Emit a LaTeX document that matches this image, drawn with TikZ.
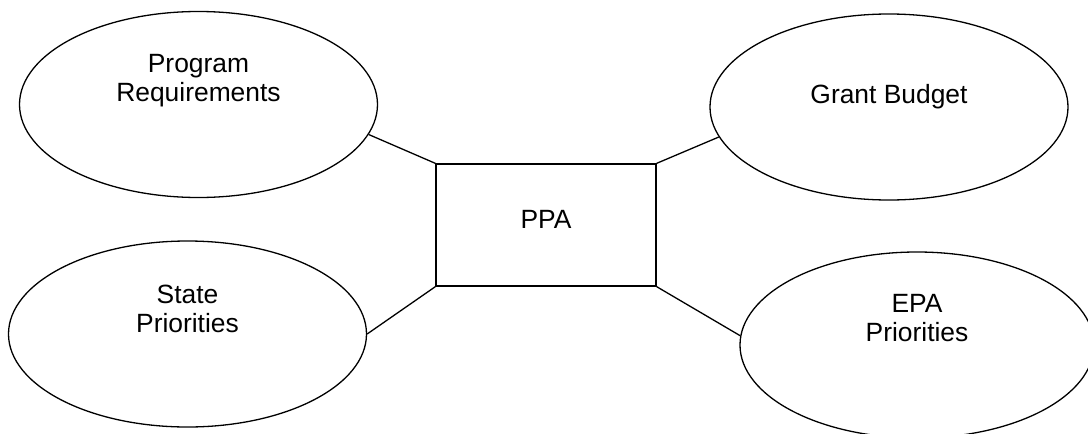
\documentclass[tikz,border=0pt]{standalone}
\usepackage{fontspec}
\setmainfont{Liberation Sans}
\usetikzlibrary{shapes,
                positioning}
\tikzset{bubble/.style=
   {ellipse,
    draw,
    align=center,
    inner sep=0pt,
    minimum width=179pt,
    minimum height=93pt,
    text height=9.4pt}}
\tikzset{block/.style=
   {rectangle,
    draw,
    text centered,
    minimum width=110pt,
    minimum height=61pt,
    text height=9.4pt,
    text depth=6.4pt}}
\tikzset{link/.style = {draw}}

\begin{document}
\begin{tikzpicture}[x=0.5pt, y=-0.5pt,
                    line width=0.65pt,
                    font=\fontsize{13.2}{14.5}\selectfont]

    \useasboundingbox (0,0) rectangle (1088,434);

    \node [block] (ppa) at (546,225) {PPA};

    \node [bubble, text depth=12.2pt] (program) at (198.5,104.5)
    {Program\\Requirements};
    \node [bubble, text depth=13.4pt] (grant) at (889,107)
    {Grant Budget};
    \node [bubble, text depth=11.4pt] (state) at (187.5,334)
    {State\\Priorities};
    \node [bubble, minimum width=177pt, text depth=13.4pt] (epa) at (917,345)
    {EPA\\Priorities};

    \path [link] (program.-10) -- (ppa.north west);
    \path [link] (grant.190)   -- (ppa.north east);
    \path [link] (state.east)  -- (ppa.south west);
    \path [link] (epa.177)     -- (ppa.south east);

\end{tikzpicture}
\end{document}
